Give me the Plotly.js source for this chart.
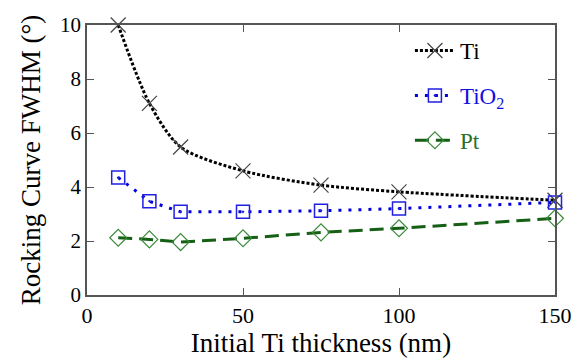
<!DOCTYPE html>
<html><head><meta charset="utf-8">
<script src="https://cdn.plot.ly/plotly-3.0.1.min.js"></script>
<style>body{margin:0;background:#fff}</style>
</head><body><div id="c"></div>
<script>
const thickness = [10, 20, 30, 50, 75, 100, 150];
const tiFWHM   = [10.0, 7.1, 5.48, 4.6, 4.07, 3.82, 3.51];
const tio2FWHM = [4.35, 3.47, 3.08, 3.08, 3.12, 3.2, 3.43];
const ptFWHM   = [2.12, 2.06, 1.96, 2.1, 2.32, 2.47, 2.84];
const xTicks = [0, 50, 100, 150];
const yTicks = [0, 2, 4, 6, 8, 10];
const FONT = 'Liberation Serif, Times New Roman, serif';

const traces = [
  {x: thickness, y: tiFWHM, name: 'Ti', legendgroup: 'a', mode: 'lines+markers',
   line: {color: '#000', width: 3, dash: '3px,2px', shape: 'spline', smoothing: 0.8},
   marker: {symbol: 'x-thin-open', size: 15, color: '#444', line: {width: 1.2, color: '#444'}}, cliponaxis: false},
  {x: thickness, y: tio2FWHM, name: '<span style="color:#1010e0">TiO<sub>2</sub></span>', legendgroup: 'b', mode: 'lines+markers',
   line: {color: '#0000e0', width: 3, dash: '3px,7px'},
   marker: {symbol: 'square-open-dot', size: 13, color: '#2020e0', line: {width: 1.5}}, cliponaxis: false},
  {x: thickness, y: ptFWHM, name: '<span style="color:#2a6e2a">Pt</span>', legendgroup: 'c', mode: 'lines+markers',
   line: {color: '#156015', width: 3, dash: '14px,7px'},
   marker: {symbol: 'diamond-open', size: 13, color: '#3a8a3a', line: {width: 1.2}}, cliponaxis: false}
];

const layout = {
  width: 586, height: 360,
  font: {family: FONT, size: 21, color: '#000'},
  margin: {l: 87, r: 31, t: 25, b: 65},
  paper_bgcolor: '#fff', plot_bgcolor: '#fff',
  xaxis: {showgrid: false, zeroline: false, showline: true, mirror: 'ticks', linecolor: '#555', linewidth: 1.5,
    ticks: 'inside', ticklen: 7, tickcolor: '#555', tickwidth: 1.2,
    tickfont: {family: FONT, size: 22, color: '#000'},
    range: [0, 150], tickvals: xTicks,
    title: {text: 'Initial Ti thickness (nm)', font: {family: FONT, size: 27, color: '#000'}, standoff: 5}},
  yaxis: {showgrid: false, zeroline: false, showline: true, mirror: 'ticks', linecolor: '#555', linewidth: 1.5,
    ticks: 'inside', ticklen: 7, tickcolor: '#555', tickwidth: 1.2,
    tickfont: {family: FONT, size: 21, color: '#000'},
    range: [0, 10], tickvals: yTicks,
    title: {text: 'Rocking Curve FWHM (°)', font: {family: FONT, size: 27, color: '#000'}, standoff: 12}},
  showlegend: true,
  legend: {x: 0.69, y: 0.985, xanchor: 'left', yanchor: 'top', bgcolor: 'rgba(0,0,0,0)',
    font: {family: FONT, size: 23, color: '#000'}, tracegroupgap: 12, traceorder: 'grouped', itemwidth: 40}
};
Plotly.newPlot('c', traces, layout, {displayModeBar: false});
</script></body></html>
